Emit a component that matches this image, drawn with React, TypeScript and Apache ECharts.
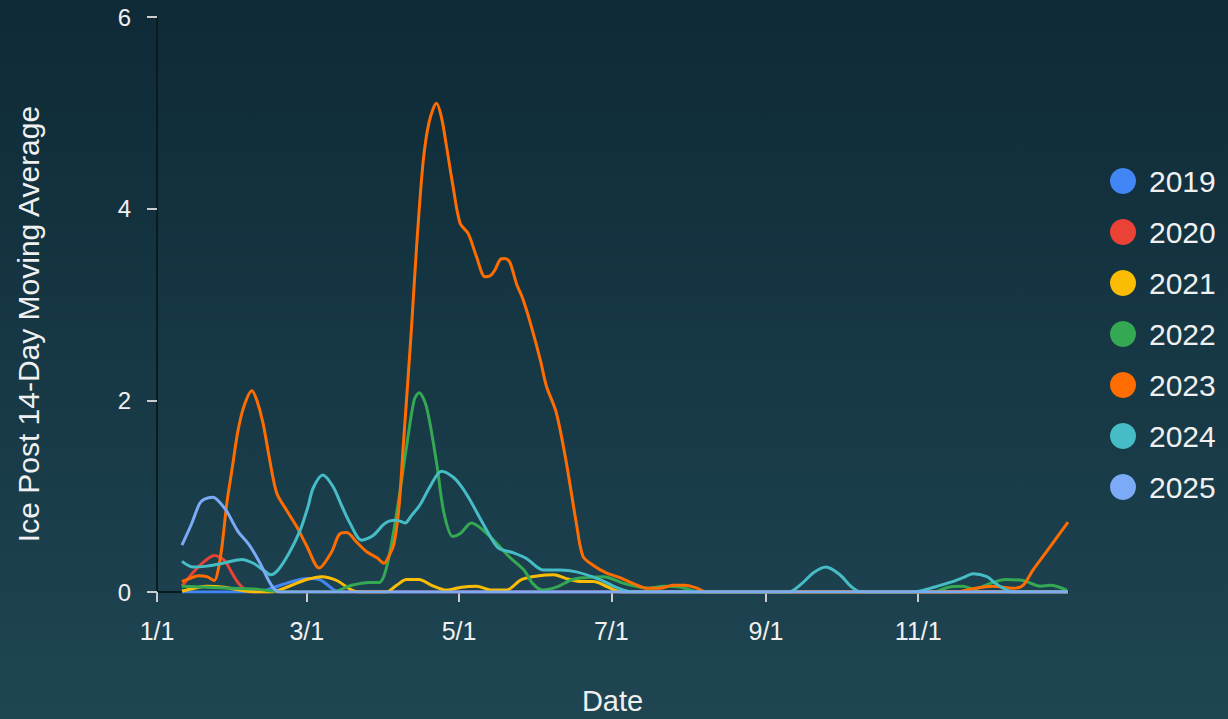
import React, { useEffect, useRef } from "react";
import * as echarts from "echarts";

const years = ["2019", "2020", "2021", "2022", "2023", "2024", "2025"];
const colors = ["#4285F4", "#EA4335", "#FBBC04", "#34A853", "#FF6D01", "#46BDC6", "#7BAAF7"];

const tickDays = [0, 60, 121, 182, 244, 305];
const tickLabels = ["1/1", "3/1", "5/1", "7/1", "9/1", "11/1"];

const y2019 = [[10, 0], [40, 0], [46, 0.04], [53, 0.1], [60, 0.14], [65, 0.13], [71, 0.02], [74, 0], [365, 0]];
const y2020 = [[10, 0.06], [15, 0.22], [19, 0.32], [23, 0.38], [27, 0.33], [30, 0.2], [33, 0.08], [37, 0], [365, 0]];
const y2021 = [[10, 0.01], [15, 0.04], [20, 0.06], [27, 0.05], [33, 0.02], [40, 0], [46, 0], [53, 0.06], [60, 0.13], [66, 0.16], [72, 0.12], [78, 0.02], [81, 0], [92, 0], [96, 0.07], [100, 0.13], [105, 0.13], [110, 0.07], [116, 0.02], [122, 0.05], [128, 0.06], [134, 0.02], [140, 0.02], [146, 0.13], [153, 0.17], [159, 0.18], [164, 0.14], [170, 0.11], [175, 0.11], [180, 0.06], [186, 0], [365, 0]];
const y2022 = [[10, 0.06], [20, 0.05], [30, 0.04], [40, 0.03], [46, 0.01], [50, 0], [70, 0], [78, 0.07], [85, 0.1], [89, 0.1], [92, 0.26], [96, 0.82], [100, 1.52], [103, 2.0], [105, 2.08], [108, 1.93], [112, 1.35], [115, 0.82], [118.5, 0.58], [121.5, 0.61], [126, 0.72], [130.5, 0.65], [136, 0.51], [141, 0.37], [147, 0.23], [150.5, 0.09], [154.5, 0.02], [160, 0.05], [166.5, 0.13], [172, 0.15], [179, 0.16], [187, 0.09], [192, 0.06], [197, 0.04], [203, 0.06], [210, 0.05], [217, 0], [311, 0], [317, 0.05], [323, 0.06], [327, 0.03], [335, 0.1], [340, 0.13], [347, 0.12], [354, 0.06], [358, 0.07], [364.5, 0.02]];
const y2023 = [[10, 0.11], [13, 0.14], [16.5, 0.17], [20, 0.16], [23, 0.12], [24.5, 0.23], [26, 0.47], [28, 0.93], [30, 1.27], [32.5, 1.69], [35, 1.95], [38, 2.1], [40, 2.0], [42.5, 1.76], [45, 1.4], [48, 1.03], [52, 0.85], [56, 0.68], [60, 0.48], [65, 0.25], [70, 0.42], [73, 0.6], [76, 0.62], [80, 0.52], [84, 0.42], [88, 0.36], [91, 0.3], [93, 0.38], [95, 0.51], [97, 0.9], [98.6, 1.5], [100.5, 2.2], [102, 2.77], [104, 3.6], [106.6, 4.48], [109, 4.9], [112, 5.1], [114, 4.95], [116, 4.65], [118.5, 4.25], [121.4, 3.85], [124.7, 3.74], [128, 3.5], [131.4, 3.29], [133.5, 3.3], [135.4, 3.36], [137.5, 3.47], [139.4, 3.48], [141.4, 3.44], [144, 3.22], [146.7, 3.05], [150, 2.77], [153.6, 2.42], [156, 2.15], [160, 1.87], [164, 1.35], [168, 0.72], [170.7, 0.37], [174.7, 0.28], [180, 0.2], [185.5, 0.15], [190.7, 0.09], [196, 0.04], [201.5, 0.04], [206.8, 0.07], [211.5, 0.07], [216.3, 0.04], [220, 0], [320, 0], [325.7, 0.03], [335, 0.06], [343, 0.04], [347, 0.07], [351, 0.23], [357.8, 0.47], [365, 0.73]];
const y2024 = [[10, 0.32], [14.5, 0.26], [20, 0.27], [26.5, 0.3], [28, 0.31], [34, 0.34], [38.6, 0.3], [42.6, 0.23], [45.5, 0.18], [48.5, 0.23], [53, 0.41], [57.3, 0.64], [60.5, 0.89], [62.5, 1.08], [66.4, 1.22], [70.5, 1.1], [74, 0.9], [77.3, 0.72], [82, 0.54], [86.6, 0.59], [90.6, 0.7], [93, 0.74], [96, 0.75], [99.4, 0.72], [102, 0.8], [105.4, 0.91], [109.4, 1.1], [114, 1.26], [118.6, 1.2], [122, 1.1], [125.4, 0.96], [132, 0.65], [136.7, 0.46], [142.6, 0.41], [148, 0.35], [154.7, 0.23], [161.5, 0.23], [168, 0.21], [177.5, 0.13], [183, 0.06], [187, 0.02], [190, 0], [253, 0], [258, 0.08], [263, 0.2], [268, 0.26], [273.6, 0.18], [278, 0.06], [282, 0], [303, 0], [310, 0.04], [317.7, 0.1], [323, 0.15], [327, 0.19], [332.5, 0.16], [336, 0.09], [339, 0.04], [343, 0], [365, 0]];
const y2025 = [[10, 0.49], [14, 0.72], [17, 0.92], [19, 0.97], [22.5, 0.99], [25, 0.94], [28, 0.84], [32.5, 0.63], [37, 0.49], [41.3, 0.3], [44.5, 0.13], [47, 0.03], [49, 0], [365, 0]];

const seriesData = [y2019, y2020, y2021, y2022, y2023, y2024, y2025];

const FONT = "'Liberation Sans', Arial, Helvetica, sans-serif";

export default function App() {
  const ref = useRef<HTMLDivElement>(null);

  useEffect(() => {
    document.body.style.margin = "0";
    if (!ref.current) return;
    const chart = echarts.init(ref.current, null, { renderer: "svg" });
    chart.setOption({
      animation: false,
      backgroundColor: new echarts.graphic.LinearGradient(0, 0, 0, 1, [
        { offset: 0, color: "#0e2a36" },
        { offset: 1, color: "#1f4553" },
      ]),
      grid: { left: 157, right: 160, top: 17, bottom: 127, outerBoundsMode: "none" },
      legend: {
        orient: "vertical",
        left: 1105,
        top: 161,
        itemWidth: 26,
        itemHeight: 26,
        itemGap: 21,
        icon: "circle",
        data: years,
        textStyle: { color: "#f0f0f0", fontSize: 30, fontFamily: FONT, padding: [0, 0, 0, 8] },
      },
      xAxis: {
        type: "value",
        min: 0,
        max: 365,
        name: "Date",
        nameLocation: "middle",
        nameGap: 94,
        nameTextStyle: { color: "#f0f0f0", fontSize: 29, fontFamily: FONT },
        splitLine: { show: false },
        axisLine: { show: true, lineStyle: { color: "#0a1a20", width: 2 } },
        axisTick: { show: true, length: 10, customValues: tickDays, lineStyle: { color: "#cccccc", width: 2 } },
        axisLabel: {
          customValues: tickDays,
          margin: 26,
          color: "#f0f0f0",
          fontSize: 25,
          fontFamily: FONT,
          formatter: (v: number) => {
            const i = tickDays.indexOf(Math.round(v));
            return i >= 0 ? tickLabels[i] : "";
          },
        },
      },
      yAxis: {
        type: "value",
        min: 0,
        max: 6,
        interval: 2,
        splitLine: { show: false },
        axisLine: { show: true, lineStyle: { color: "#0a1a20", width: 2 } },
        axisTick: { show: true, length: 10, lineStyle: { color: "#cccccc", width: 2 } },
        axisLabel: { margin: 26, color: "#f0f0f0", fontSize: 24, fontFamily: FONT },
      },
      graphic: [
        {
          type: "text",
          x: 28,
          y: 324,
          rotation: Math.PI / 2,
          style: {
            text: "Ice Post 14-Day Moving Average",
            fill: "#f0f0f0",
            fontSize: 30,
            fontFamily: FONT,
            align: "center",
            verticalAlign: "middle",
          },
        },
      ],
      series: years.map((y, i) => ({
        name: y,
        type: "line",
        data: seriesData[i],
        smooth: 0.3,
        symbol: "none",
        color: colors[i],
        lineStyle: { width: 3, color: colors[i] },
      })),
    });
    return () => chart.dispose();
  }, []);

  return <div ref={ref} style={{ width: 1228, height: 719 }} />;
}
